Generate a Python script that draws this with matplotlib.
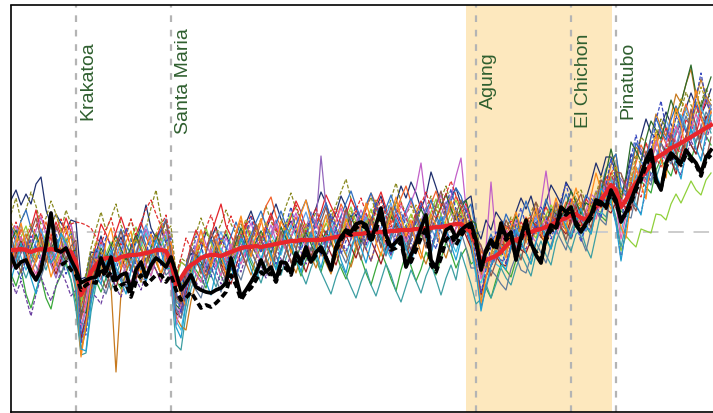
import numpy as np
import matplotlib
matplotlib.use("Agg")
import matplotlib.pyplot as plt
from matplotlib.transforms import blended_transform_factory

# ---------------- data (temperature anomaly, in 0.01 degC) ----------------
YEARS = list(range(1870, 2011))

ENSEMBLE_MEAN = [
    -9, -9, -8.5, -9, -10, -9, -8.5, -9, -8.5, -9,
    -9.5, -9, -10, -15, -31.5, -26.5, -20, -16.5, -14, -13,
    -13, -14, -12.5, -12, -11.5, -11.5, -11, -10.5, -10, -9,
    -9, -9.5, -15, -26.5, -23, -19, -16.5, -15, -13, -12,
    -11.5, -11.5, -12, -11, -10, -9, -8, -7.5, -7.5, -7,
    -7.5, -7, -6.5, -6, -5.5, -5, -4.5, -4.5, -4, -4,
    -4, -4, -4, -3.5, -3, -2.5, -2, -1.5, -1.5, -1,
    -1, -0.5, -0.5, 0, 0, 0, 0.5, 0.5, 1, 1,
    1, 1.5, 1.5, 2, 2, 2.5, 2.5, 3, 3.5, 4,
    4, 2, 0, -6, -15.5, -14, -13, -12, -10, -7,
    -4.5, -4, -3, -0.5, 0, 1, 1.5, 2.5, 3.5, 5,
    6, 7, 8.5, 9, 7, 6.5, 9, 12.5, 16, 19.5,
    23.5, 21, 12.5, 16, 21, 24.5, 27.5, 30.5, 33.5, 37,
    38.5, 40, 42, 43, 44.5, 46, 47.5, 49, 50.5, 52, 53.5]

OBS_SOLID = [
    -11.5, -18, -15, -14, -20, -24, -19, -6.5, 9.5, -9,
    -10, -8, -14, -19, -25.5, -24, -23, -22.5, -13, -20,
    -12.5, -24, -21.5, -20.5, -29, -19, -15, -22.5, -16.5, -13,
    -15, -17.5, -12.5, -20.5, -29, -25.5, -21.5, -27.5, -29, -30,
    -30.5, -29, -28, -25.5, -13, -22.5, -32.5, -29, -25, -20.5,
    -14, -20, -17.5, -24, -15, -15.5, -20.5, -10.5, -15, -7.5,
    -15, -10, -7.5, -12.5, -19, -7.5, -2.5, 1, 0, 4,
    5, 3.5, -4, 3.5, 12, -1.5, -7.5, -5, -2.5, -17.5,
    -11.5, -5.5, 2, 8.5, -14, -18, -6.5, 1, 2.5, -3,
    1, 3, 4.5, -4, -19, -9, -4, -7.5, 4.5, -2.5,
    0, -14, -2.5, 6, -5.5, -11.5, -15.5, -2.5, 3.5, 2,
    12.5, 10, 12.5, 3.5, 0, 4.5, 8.5, 16, 15, 12.5,
    21, 16, 5, 10, 16, 22.5, 28.5, 36, 41, 26,
    21, 34.5, 39.5, 37, 34.5, 41, 37.5, 34.5, 29.5, 37.5, 41]

OBS_DASHED_START = 1880
OBS_DASHED = [
    -16.5, -15, -19, -21.5, -29, -26.5, -25, -25.5, -18, -23,
    -20, -29, -26.5, -25.5, -32.5, -25, -21.5, -26.5, -24, -21.5,
    -21.5, -25, -21.5, -29, -34, -33, -30, -34, -38, -36.5,
    -37.5, -35.5, -33, -30, -21.5, -26.5, -34, -30, -28, -24,
    -20, -22, -20.5, -25, -18, -18, -21.5, -13, -16, -10,
    -15, -11.5, -9, -13, -18, -9, -4, 0, -1.5, 2,
    3.5, 2, -5, 1, 8.5, -3, -9, -8, -5, -16.5,
    -15, -9, -3, 2, -16.5, -20, -13, -4, -1.5, -6.5,
    -2, 2, 3, -5.5, -18, -10, -5.5, -9, 2, -4,
    -1.5, -13, -4, 4, -6.5, -10, -14, -4, 1, 1,
    10, 8.5, 11, 5, 1, 3.5, 7, 14.5, 13.5, 12,
    19.5, 14.5, 7, 8.5, 14.5, 21, 26, 33.5, 38.5, 25,
    22, 32.5, 37.5, 36, 33.5, 38.5, 36, 33.5, 28, 36, 38.5]

# ensemble members: departure from the ensemble mean, 0.01 degC, 1870-2010
m01 = [25, 30, 22, 28, 24, 33, 36, 20, 12, 18, 14, 10, 16, 20, 8, 4, 10, 6, 12, 2,
       -4, 6, 10, 2, -2, 8, 14, 24, 12, 6, 10, 4, 8, -6, -10, 2, 6, 0, 4, 12,
       8, 14, 6, 10, 2, -4, 4, 12, 18, 10, 4, 8, 14, 20, 12, 6, 10, 4, -2, 6,
       10, 16, 24, 18, 8, 12, 20, 14, 6, 10, 2, 8, 4, 12, 18, 10, 6, 14, 22, 16,
       24, 18, 10, 16, 28, 20, 12, 8, 14, 18, 10, 14, 18, 8, 12, 20, 14, 22, 16, 10,
       6, 14, 20, 12, 18, 8, 4, 12, 20, 14, 8, 18, 12, 6, 2, 10, 16, 22, 12, 18,
       14, 8, 4, 10, 18, 12, 20, 26, 16, 10, 14, 20, 12, 6, 10, 16, 22, 14, 8, 12, 18]
m02 = [18, 26, 14, 20, 30, 22, 12, 16, 24, 18, 10, 20, 14, 6, -2, 6, 12, 18, 24, 14,
       20, 28, 16, 10, 18, 8, 4, 12, 22, 30, 16, 10, 18, 6, 10, 4, 8, 14, 20, 12,
       6, 10, 16, 22, 14, 8, 12, 6, 2, 8, 14, 20, 12, 6, 10, 18, 24, 16, 10, 4,
       8, 14, 6, 2, 10, 16, 22, 28, 18, 12, 6, 12, 18, 10, 4, 8, 16, 24, 14, 8,
       12, 6, 2, 10, 16, 8, 14, 20, 10, 6, 4, 8, 2, 6, -2, 4, 10, 6, 2, 8,
       12, 6, 0, 4, 10, 14, 8, 2, 6, 10, 6, 0, 4, 10, 14, 8, 2, 6, 12, 8,
       2, 10, 16, 8, 4, 12, 20, 14, 6, 10, 18, 12, 4, 8, 16, 24, 16, 10, 14, 20, 12]
m03 = [10, 4, -2, 6, 12, 20, 8, 0, 6, 14, 8, 16, 10, 2, -6, -2, 4, 10, 18, 12,
       6, 14, 20, 12, 4, 10, 16, 8, 2, 6, 12, 6, -2, 4, 8, 2, 10, 16, 8, 4,
       10, 18, 26, 14, 8, 2, 6, 12, 4, -2, 4, 10, 16, 8, 2, 6, 12, 20, 14, 6,
       2, 8, 14, 22, 16, 10, 4, 10, 18, 12, 8, 2, 6, 14, 20, 12, 4, 8, 2, -4,
       2, 8, 14, 6, 0, 4, 10, 16, 8, 2, 6, 10, 4, 0, 6, 2, -2, 4, 8, 2,
       -2, 4, 8, 2, -4, 0, 6, 10, 4, 0, 6, 2, -4, 0, 6, 10, 4, -2, 2, 8,
       4, -4, 2, 10, 6, 0, 8, 14, 4, -2, 6, 12, 4, -4, 2, 10, 6, 0, 8, 14, 6]
m04 = [-4, 2, 10, 4, -6, 0, 8, 14, 6, 0, -6, 2, 8, -2, -12, -8, 0, 6, -2, -8,
       -2, 6, 0, -6, 2, 10, 4, -4, 2, 8, 0, -6, 2, -8, -14, -6, 2, 8, 0, -4,
       4, 10, 2, -4, 2, 8, 14, 6, 0, 4, 12, 20, 24, 14, 8, 2, 6, 12, 4, -2,
       4, 10, 2, -4, 2, 8, 16, 10, 4, 0, 6, 12, 20, 14, 6, 0, 4, 10, 16, 22,
       14, 8, 2, 6, 12, 18, 10, 4, 8, 14, 8, 2, -4, 2, 6, 0, -4, 2, 6, 10,
       4, -2, 2, 8, 4, -2, 2, 6, 0, -4, 2, 8, 4, -2, -6, 0, 6, 2, -4, 0,
       6, 12, 4, -2, 4, 10, 16, 8, 2, 6, 12, 4, -2, 6, 12, 18, 8, 2, -4, 4, 10]
m05 = [-10, -4, 2, -6, -12, -4, 4, -2, -8, -14, -6, 0, -8, -14, -20, -16, -8, -2, -10, -4,
       2, -6, -12, -4, 4, -2, -8, -14, -6, 0, 6, -2, -8, -16, -10, -4, 2, -6, -12, -4,
       2, 8, 0, -6, 2, 8, 2, -4, 4, 10, 4, -2, 6, 12, 4, -4, 2, 8, 0, 6,
       14, 8, 42, 16, 6, 0, 6, 12, 4, -2, 4, 10, 2, -4, 2, 8, 0, -6, 2, 8,
       2, -4, 4, 10, 4, -2, 6, 12, 6, 0, -4, 2, -2, 4, 8, 2, -2, 4, 0, -4,
       2, 6, 0, -4, 2, 8, 4, -2, 4, 10, 4, -2, 2, 6, 0, -4, 2, 8, 2, -4,
       0, 8, 14, 6, 12, 20, 14, 6, 2, 8, 14, 8, 2, 6, 12, 4, -2, 4, 10, 16, 8]
m06 = [6, 12, 4, -2, 4, 10, 16, 8, 2, -4, 2, 8, 14, 6, -4, -10, -2, 4, 10, 2,
       -4, 2, 8, 0, -6, 0, 6, 12, 4, -2, 4, 10, 2, -6, -12, -4, 2, 8, 14, 6,
       0, -6, 2, 8, 2, -4, 0, 6, 12, 4, -2, 4, 10, 2, -4, 2, 8, 14, 6, 0,
       -6, 0, 8, 2, -4, 4, 10, 4, -2, 6, 12, 6, 0, 4, 10, 4, -2, 6, 12, 8,
       14, 20, 33, 12, 6, 10, 16, 8, 14, 24, 33, 10, 4, 8, 2, 6, 38, 8, 4, 0,
       4, 10, 2, -4, 2, 6, 12, 28, 8, 2, -2, 4, 8, 2, -2, 4, 10, 4, 0, 6,
       2, -4, 2, 8, 2, -4, 0, 6, 12, 4, -2, 4, 10, 2, -4, 2, 8, 14, 6, 0, 6]
m07 = [-12, -18, -10, -22, -28, -20, -14, -24, -30, -18, -12, -6, -14, -20, -28, -22, -14, -8, -16, -10,
       -4, -10, -16, -8, -2, -8, -14, -6, 0, -6, -12, -6, 0, -8, -14, -6, 2, -4, -10, -16,
       -8, -2, -10, -16, -8, -2, 4, -2, -8, -14, -6, 0, -6, -12, -4, 2, -4, -10, -18, -10,
       -4, -10, -16, -8, -2, -8, -16, -22, -14, -6, -12, -20, -26, -18, -10, -16, -24, -30, -20, -12,
       -18, -26, -20, -12, -18, -24, -16, -8, -14, -22, -16, -10, -16, -8, -4, -14, -20, -12, -6, -12,
       -18, -10, -2, -10, -16, -6, 2, -6, -12, -4, 2, -6, -12, -4, 4, -4, -10, -2, -8, -14,
       -2, 4, -2, -8, -2, 4, -2, -8, -14, -6, -2, -8, -14, -6, 0, -6, -12, -4, 2, -4, -10]
m08 = [4, -2, 6, 12, 4, -4, 2, 8, 0, -6, 0, 6, -2, -8, -4, 2, 8, 2, -4, 2,
       8, 2, -4, 2, 8, 14, 6, 0, -6, 0, 6, 0, -6, 2, 8, 2, -4, 2, 8, 14,
       6, 0, 6, 12, 4, -2, 4, 10, 2, -4, 2, 8, 2, -4, 2, 8, 14, 6, 0, 6,
       0, -6, 2, 8, 2, -4, 2, 8, 14, 6, 0, 6, 12, 4, -2, 4, 10, 2, -4, 2,
       8, 2, -4, 2, 8, 14, 6, 0, 6, 12, 6, 0, 6, 2, -4, 2, 8, 2, -2, 4,
       0, -4, 2, 6, 0, -4, 2, 6, 10, 4, -2, 2, 6, 0, -4, 0, 4, -2, -6, -2,
       -8, -14, -22, -18, -26, -32, -26, -30, -34, -28, -30, -34, -28, -24, -30, -26, -22, -28, -32, -26, -24]
m09 = [-6, 0, -8, -14, -6, 2, -4, -10, -2, 4, -2, -8, -14, -24, -30, -34, -20, -10, -4, -10,
       -16, -8, -2, -8, -14, -6, 0, -6, -12, -4, 2, -4, -10, -30, -36, -22, -12, -6, -12, -4,
       -10, -16, -8, -2, -8, -14, -6, 0, -6, -12, -18, -10, -4, -10, -16, -8, -2, -8, -16, -22,
       -14, -8, -16, -22, -28, -20, -14, -20, -26, -32, -24, -18, -26, -32, -24, -16, -22, -30, -36, -28,
       -20, -26, -32, -24, -18, -26, -34, -26, -20, -28, -14, -20, -26, -30, -18, -12, -20, -14, -8, -16,
       -22, -14, -8, -16, -22, -12, -6, -14, -20, -10, -4, -12, -18, -10, -6, -14, -22, -14, -6, -12,
       -6, -14, -20, -12, -6, -12, -4, 2, -4, -10, -4, 2, -6, -12, -4, 2, -4, -10, -2, 4, -4]
m10 = [-2, 4, -4, -10, -2, 4, 10, 2, -4, 2, 8, 2, -4, -14, -24, -18, -10, -4, 2, -4,
       -10, -2, 4, -2, -8, -2, 4, 10, 2, -4, 2, 8, 0, -18, -26, -16, -8, -2, 4, -2,
       -8, -2, 4, -2, -8, -14, -6, 0, 6, 0, -6, 0, 6, 0, -6, 2, 8, 2, -4, 2,
       8, 2, -4, 2, 8, 2, -4, -10, -2, 4, -2, -8, -2, 4, -2, -8, -14, -6, 0, -6,
       -12, -4, 2, -4, -10, -2, 4, -2, -8, -14, -6, 0, -8, -16, -10, -4, 2, -4, -8, -2,
       4, -2, -6, 0, 6, 0, -4, 2, 8, 2, -2, 4, 0, -6, -10, -4, 2, -2, -8, -2,
       4, -4, -12, -6, 2, 8, 2, -4, 2, 8, 2, -4, 2, 8, 14, 6, 0, 6, 12, 4, -2]
m11 = [2, -4, 2, 8, 0, -6, 0, 6, -2, -8, -2, 4, -2, -16, -28, -20, -10, -4, 2, -6,
       -14, -56, -18, -8, -2, -8, -14, -6, 0, -6, -12, -4, 2, -16, -24, -30, -18, -10, -4, -10,
       -4, 2, -4, -10, -2, 4, -2, -8, -14, -6, 0, -6, -12, -4, 2, -4, -10, -16, -8, -2,
       -8, -14, -6, -12, -18, -10, -4, -10, -16, -8, -2, -8, -14, -6, 0, -6, -12, -4, 2, -4,
       -10, -4, -12, -18, -10, -4, -10, -16, -8, -2, 4, -2, 4, -2, -6, 0, -4, 2, 6, 0,
       -4, 2, 6, 0, -4, 2, 8, 2, -2, 4, 8, 2, -2, 4, 8, 2, -2, 4, 10, 4,
       10, 18, 8, 2, 10, 18, 12, 6, 14, 22, 14, 8, 16, 26, 20, 28, 34, 18, 26, 16, 10]
m12 = [-8, -2, 4, -2, -8, -14, -6, 0, -6, -12, -4, 2, -4, -10, -22, -16, -8, -2, 4, -2,
       -8, -14, -6, 0, -6, -12, -4, 2, -4, -10, -16, -8, -2, -14, -20, -12, -6, 0, -6, -12,
       -4, 2, -4, -10, -16, -8, -2, 4, -2, -8, -14, -6, 0, -6, -12, -4, 2, -4, -10, -16,
       -8, -2, 4, -2, -8, -14, -6, 0, -6, -12, -4, 2, -4, -10, -16, -8, -2, 4, -2, -8,
       -14, -6, 0, -6, -12, -4, 2, -4, -10, -6, 0, -4, -8, -12, -16, -8, -4, 0, -6, -10,
       -4, 0, -6, -10, -4, 2, -4, -8, -2, 2, -4, -8, -2, 4, -2, -6, 0, 4, -2, -8,
       -14, -6, 2, -4, -10, -2, 6, 0, -8, -2, 6, 0, -6, -14, -6, 2, -4, -10, -2, 6, 0]
m13 = [12, 6, 14, 20, 12, 6, 0, 6, 12, 4, -2, 4, 10, 2, -10, -4, 2, 8, 2, -4,
       2, 8, 14, 6, 0, 6, 12, 4, -2, 4, 10, 16, 8, 2, -4, 2, 8, 2, -4, 2,
       8, 2, -4, 2, 8, 14, 6, 0, 6, 12, 18, 10, 4, 10, 16, 8, 2, 8, 14, 20,
       12, 6, 12, 18, 10, 4, 10, 16, 22, 14, 8, 14, 20, 12, 6, 12, 18, 10, 4, 10,
       16, 8, 2, 8, 14, 6, 0, 6, 12, 18, 14, 8, 14, 6, -2, 6, 12, 4, 10, 16,
       8, 2, 10, 16, 8, 0, 6, 14, 6, -2, 6, 12, 4, -4, 4, 12, 6, -2, 6, 12,
       12, 18, 10, 4, 12, 20, 12, 6, 14, 20, 12, 6, 14, 20, 12, 4, 10, 16, 8, 2, 8]
m14 = [0, 6, 12, 4, -2, 4, 10, 2, -4, 2, 8, 2, -4, -8, -18, -12, -4, 2, 8, 2,
       -4, 2, 8, 2, -4, 2, 8, 14, 6, 0, -6, 0, 6, -8, -14, -6, 0, 6, 0, -6,
       0, 6, 12, 4, -2, 4, 10, 2, -4, 2, 8, 2, -4, 2, 8, 2, -4, 2, 8, 14,
       6, 0, 6, 12, 4, -2, 4, 10, 2, -4, 2, 8, 2, -4, 2, 8, 14, 6, 0, 6,
       0, -6, 0, 6, 0, -6, 0, 6, 12, 4, -2, 4, -2, -8, -4, 2, -4, 0, 4, -2,
       2, 6, 0, -4, 2, 6, 0, -6, 0, 6, 0, -4, 2, 6, 0, -6, 0, 4, 8, 2,
       -4, 4, 10, 2, -6, 2, 8, 0, -8, 0, 8, 16, 8, 0, 8, 16, 8, 0, -6, 2, 10]
m15 = [4, 10, 2, -4, 2, 8, 0, -6, 0, 6, 0, -6, 0, 6, -8, -14, -6, 0, 6, 0,
       6, 12, 4, -2, 4, 10, 2, -4, 2, 8, 2, -4, 2, -10, -16, -8, -2, 4, -2, -8,
       -2, 4, -2, -8, -2, 4, 10, 2, -4, 2, 8, 2, -4, 2, 8, 2, -4, -10, -2, 4,
       -2, -8, -2, 4, -2, -8, -2, 4, 10, 2, -4, 2, 8, 2, -4, 2, 8, 2, -4, -10,
       -2, 4, 10, 4, -2, 4, 10, 16, 8, 2, 8, 14, 6, 10, 2, -4, 2, 8, 4, 0,
       6, 12, 4, 0, 6, 2, -4, 2, 8, 4, 0, 6, 12, 6, 2, 8, 4, -2, 4, 10,
       18, 10, 4, 12, 24, 16, 8, 16, 22, 14, 8, 16, 24, 16, 20, 28, 36, 20, 12, 18, 24]
m16 = [-14, -22, -16, -24, -32, -22, -14, -20, -26, -18, -10, -16, -22, -14, -24, -18, -10, -16, -22, -14,
       -8, -14, -20, -12, -6, -12, -18, -10, -4, -10, -16, -8, -2, -12, -18, -10, -4, -10, -16, -8,
       -2, -8, -14, -6, 0, -6, -12, -4, 2, -4, -10, -16, -8, -2, -8, -14, -6, 0, -6, -12,
       -4, 2, -4, -10, -2, 4, -2, -8, -2, 4, -2, -8, -14, -6, 0, -6, -12, -4, 2, -4,
       -10, -4, 2, -4, -10, -2, 4, -2, -8, -2, 4, -2, -6, -10, -14, -8, -4, 0, -4, -8,
       -2, 2, -4, -8, -2, 4, -2, -6, 0, 4, -2, -6, -12, -6, 0, -4, -8, -2, 2, -4,
       -10, -16, -26, -14, -6, -12, -18, -10, -4, -10, -16, -8, -2, -10, -16, -8, -2, -8, -14, -6, 0]
m17 = [8, 14, 6, 0, 6, 12, 18, 10, 4, 10, 16, 8, 14, 20, 36, 30, 22, 14, 8, 14,
       20, 12, 6, 12, 18, 10, 16, 22, 26, 18, 12, 18, 10, 4, 10, 16, 8, 2, 8, 14,
       20, 12, 6, 12, 18, 10, 4, 10, 16, 8, 2, 8, 14, 6, 0, 6, 12, 18, 10, 4,
       10, 16, 8, 2, 8, 14, 6, 0, 6, 12, 18, 10, 4, 10, 16, 8, 2, 8, 14, 6,
       0, 6, 12, 18, 10, 4, 10, 16, 22, 14, 8, 12, 6, 2, -4, 4, 10, 4, 0, 6,
       10, 4, -2, 4, 8, 2, -4, 2, 6, 0, -4, 2, 8, 2, -4, 2, 6, 0, -4, 2,
       6, 0, -8, -2, 4, -4, -10, -2, 6, 0, -6, 2, 8, 0, -6, 2, 8, 14, 6, 0, 4]
m18 = [-6, 0, 6, 0, -6, -12, -4, 2, -4, -10, -2, 4, -2, -8, -16, -10, -2, 4, -2, -8,
       -2, 4, -2, -8, -14, -6, 0, -6, -12, -4, 2, -4, -10, -20, -14, -6, 0, -6, -12, -4,
       2, -4, -10, -2, 4, -2, -8, -2, 4, -2, -8, -2, 4, 10, 2, -4, 2, 8, 2, -4,
       2, 8, 2, -4, 2, 8, 14, 6, 0, 6, 0, -6, 0, 6, 0, -6, 0, 6, 0, -6,
       0, 6, 0, -6, -12, -4, 2, -4, -10, -2, 2, -2, 4, -2, -8, -2, 2, -2, 4, 8,
       2, -4, 0, 4, -2, -6, 0, 4, -2, -6, -2, 4, -2, -6, 0, 4, -2, -6, 0, 4,
       -2, -8, -16, -8, -2, 6, 0, -6, 2, 8, 2, -4, 4, 10, 2, -4, 4, 10, 2, -4, 2]
m19 = [14, 8, 2, 8, 14, 6, 0, 6, 12, 18, 10, 4, 10, 4, -6, 0, 6, 12, 4, -2,
       4, 10, 2, -4, 2, 8, 2, -4, 2, 8, 14, 6, 0, 6, -2, -8, -2, 4, 10, 2,
       -4, 2, 8, 2, -4, 2, 8, 14, 6, 0, 6, 12, 4, -2, 4, 10, 2, -4, 2, 8,
       2, -4, 2, 8, 14, 6, 0, 6, 12, 4, -2, 4, 10, 16, 8, 2, 8, 14, 6, 0,
       6, 12, 4, -2, 4, 10, 2, -4, 2, 8, 2, -2, 4, 8, 2, -4, 0, 6, 2, -2,
       4, 8, 2, -2, 4, 8, 2, -4, 2, 6, 2, -4, 2, 8, 4, -2, 2, 8, 4, -2,
       4, 12, 6, -2, 6, 14, 6, -2, 6, 14, 6, -2, 6, 14, 22, 14, 6, 14, 22, 14, 6]
m20 = [-2, -8, -2, 4, -2, -8, -14, -6, 0, -6, -12, -4, 2, -6, -14, -20, -12, -6, -12, -18,
       -10, -4, -10, -16, -8, -2, -8, -14, -6, 0, -6, -12, -4, -12, -20, -14, -8, -14, -20, -12,
       -6, -12, -18, -10, -4, -10, -16, -8, -2, -8, -14, -6, 0, -6, -12, -4, 2, -4, -10, -2,
       4, -2, -8, -2, 4, -2, -8, -14, -6, 0, -6, 0, 6, 0, -6, -12, -4, 2, -4, -10,
       -2, 4, -2, -8, -2, 4, -2, -8, -14, -6, -4, -10, -18, -12, -22, -14, -6, -10, -16, -22,
       -14, -8, -16, -20, -12, -6, -12, -18, -10, -4, -10, -16, -8, -2, -10, -16, -8, -2, -10, -16,
       -2, 6, 0, -8, -14, -6, 2, -4, -10, -2, 6, -2, -8, -2, 6, 12, 4, -4, 2, 8, 2]
m21 = [3, -9, -15, -4, 8, 1, -7, 5, 16, 9, -3, -12, -5, 7, -19, -25, -9, 4, -2, 11,
       6, -5, 2, 14, 8, -6, -13, -1, 10, 3, -8, 5, 12, -3, -17, -9, 1, 13, 7, -5,
       -11, 0, 9, 3, -8, -14, -2, 7, 15, 4, -3, 8, 1, -10, -4, 9, 17, 6, -5, 2,
       11, 4, -7, 1, 12, 5, -9, -3, 8, 14, 3, -6, 5, 15, 7, -4, -12, 0, 9, 2,
       -7, 4, 13, 6, -5, -11, 1, 10, 18, 7, -2, 9, 3, -8, -15, -5, 6, 12, 1, -9,
       -3, 8, 15, 4, -6, 2, 11, 5, -7, -1, 10, 17, 6, -4, -12, -3, 8, 1, -9, 4,
       13, 5, -8, 3, 16, 24, 11, -2, 7, 19, 27, 12, 3, 15, 8, -5, 6, 18, 29, 14, 5]
m22 = [-8, 4, 13, 2, -11, -5, 6, -3, -14, -6, 5, 12, 1, -9, -31, -20, -6, 3, -7, 8,
       15, 4, -6, 7, 12, -2, -10, 3, 9, -4, -12, -1, 10, 4, -9, -18, -7, 5, 14, 2,
       -6, 7, 1, -11, -3, 9, 16, 4, -5, 6, 14, 3, -8, -2, 11, 5, -6, 2, 13, 20,
       9, -4, 3, 12, 1, -10, -3, 8, 2, -7, 4, 15, 7, -5, -12, 0, 8, 17, 6, -3,
       5, -8, -15, -4, 7, 1, -9, 3, 12, 4, -6, 5, -3, -12, -20, -9, 2, 10, 3, -6,
       7, 14, 4, -5, 3, 11, -2, -9, 4, 12, 2, -7, 5, 13, 6, -4, 9, 17, 5, -3,
       -12, 1, -10, -19, -5, 8, -4, -14, 3, 12, -2, -13, 6, 19, 9, -6, 10, 22, 8, -4, 7]
m23 = [7, -3, -12, 1, 10, 16, 5, -6, 2, 12, 6, -5, 3, 11, -12, -3, 8, 1, -8, -15,
       -5, 6, 13, 3, -7, 0, 9, 2, -9, -3, 8, 15, 4, -6, -13, -2, 9, 3, -8, 1,
       12, 5, -6, -13, -2, 7, -1, -9, 3, 11, 4, -7, -15, -4, 6, -2, -11, -5, 8, 1,
       -9, -2, 9, 16, 5, -4, 3, 13, 6, -5, -13, -3, 7, 1, -8, 4, 12, 3, -6, -14,
       -4, 7, -1, -10, 2, 11, 18, 6, -3, 5, 12, 4, -5, 3, 9, -1, -9, -3, 6, 13,
       5, -4, -11, -2, 7, 14, 3, -5, 1, 9, -3, -11, -4, 5, 12, 2, -7, 1, 10, 3,
       -5, 9, 17, 6, -6, -14, -3, 10, 2, -9, -18, -5, 7, -3, -12, 1, 14, 4, -8, -16, -6]
m24 = [-15, -6, 3, -4, -13, -22, -9, 1, -7, -2, 9, 3, -6, -13, -27, -33, -16, -5, -12, -3,
       4, -4, -12, -19, -8, 1, -6, -14, -3, 5, -1, -9, -3, -21, -30, -17, -6, 2, -5, -13,
       -20, -8, 1, -6, -14, -4, 5, -2, -11, -18, -7, 2, -5, -13, -3, 6, -1, -9, -16, -5,
       3, -6, -14, -4, 5, -3, -12, -19, -8, 0, -7, -15, -5, 4, -3, -11, -2, 6, -1, -9,
       -17, -6, 2, -5, -13, -3, 5, -2, -10, -18, -8, 1, -6, -14, -24, -13, -4, 3, -5, -12,
       -3, 5, -2, -10, -16, -6, 2, -5, -12, -4, 3, -4, -11, -3, 5, -3, -10, -2, 6, -1,
       -9, -17, -27, -14, -3, -11, -19, -7, 2, -8, -16, -6, 3, -9, -18, -5, 4, -7, -15, -3, 5]

MEMBERS = [m01, m02, m03, m04, m05, m06, m07, m08, m09, m10, m11, m12,
           m13, m14, m15, m16, m17, m18, m19, m20, m21, m22, m23, m24]
MEMBER_COLORS = ["#1f2f6e", "#8a8a22", "#e3242b", "#f2622c", "#9467bd",
                 "#c260c8", "#3aa83a", "#8fd03a", "#3c9ea2", "#3fc0e2",
                 "#c77a1f", "#9b1c1c", "#2f6fc0", "#5ca0e8", "#2a6a2a",
                 "#6a3fa0", "#e03030", "#e060b0", "#b8a020", "#607a9a",
                 "#3b4cc0", "#ff8c1a", "#8c564b", "#1f9fd0"]
MEMBER_DASHED = [False, True, False, False, False, False, False, False, False, False,
                 False, False, False, False, False, True, True, False, True, False,
                 True, False, False, False]

VOLCANOES = ["Krakatoa", "Santa Maria", "Agung", "El Chichon", "Pinatubo"]
VOLCANO_YEARS = [1883, 1902, 1963, 1982, 1991]
REF_PERIOD = (1961, 1990.2)

# ---------------- plotting ----------------
W, H = 713, 413
fig = plt.figure(figsize=(W / 100, H / 100), dpi=100)
ax = fig.add_axes([10.5 / W, 1.5 / H, 1 - 10.5 / W, 406 / H])

years = np.array(YEARS)
mean = np.array(ENSEMBLE_MEAN, dtype=float) / 100.0
n = len(years)

ax.axvspan(REF_PERIOD[0], REF_PERIOD[1], color="#fde8be", lw=0, zorder=0)
ax.axhline(0, color="#cccccc", lw=1.4, ls=(0, (8, 5)), zorder=1)
for yr in VOLCANO_YEARS:
    ax.axvline(yr, color="#b4b4b4", lw=1.6, ls=(0, (3, 3.5)), zorder=1)

for vals, col, dsh in zip(MEMBERS, MEMBER_COLORS, MEMBER_DASHED):
    v = np.array(vals[:n], dtype=float) / 100.0
    k = len(v)
    ax.plot(years[:k], mean[:k] + v, color=col, lw=0.9,
            ls=(0, (3, 1.5)) if dsh else "-", zorder=2)

ax.plot(years, mean, color="#e8262b", lw=3.1, zorder=3)

od = np.array(OBS_DASHED, dtype=float) / 100.0
yd = np.arange(OBS_DASHED_START, OBS_DASHED_START + len(od))
ax.plot(yd, od, color="black", lw=2.7, ls=(0, (1.8, 1.0)), zorder=4)
ax.plot(years, np.array(OBS_SOLID, dtype=float) / 100.0, color="black", lw=2.7, zorder=5)

trans = blended_transform_factory(ax.transData, ax.transAxes)
for name, yr in zip(VOLCANOES, VOLCANO_YEARS):
    ax.text(yr + 0.7, 0.815, name, rotation=90, ha="left", va="center",
            color="#2f5f2f", fontsize=14, family=["Liberation Sans", "DejaVu Sans"],
            transform=trans, zorder=6)

ax.set_xlim(1869.9, 2010.4)
ax.set_ylim(-0.8975, 1.1325)
ax.set_xticks([])
ax.set_yticks([])
for s in ["left", "top", "bottom"]:
    ax.spines[s].set_color("black")
    ax.spines[s].set_linewidth(1.2)
ax.spines["right"].set_visible(False)

fig.savefig("out.png", dpi=100)
